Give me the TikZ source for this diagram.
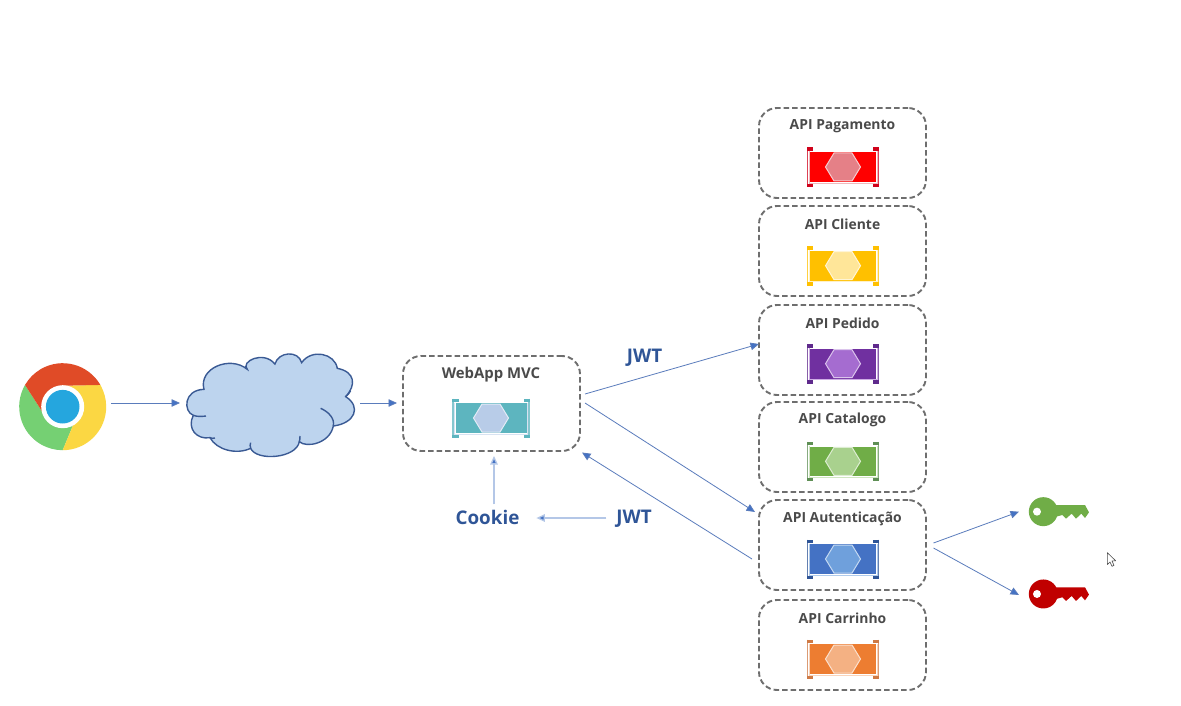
\documentclass[tikz,border=0pt]{standalone}
\usepackage{fontspec}
\setmainfont{Open Sans}
\usetikzlibrary{arrows.meta}
\definecolor{linkblue}{HTML}{5A7CBC}
\definecolor{tipblue}{HTML}{4472C4}
\definecolor{palelink}{HTML}{B4C7E7}
\definecolor{labelblue}{HTML}{2F5597}
\definecolor{titlegrey}{HTML}{4A4A4A}
\definecolor{dashgrey}{HTML}{6E6E6E}
\definecolor{cred}{HTML}{E04B27}
\definecolor{cyel}{HTML}{FBD743}
\definecolor{cgrn}{HTML}{75D073}
\definecolor{cblu}{HTML}{25A6DE}
\definecolor{cloudfill}{HTML}{BDD4EE}
\definecolor{cloudline}{HTML}{3A5A94}
\definecolor{webmain}{HTML}{5DB5BF}
\definecolor{webhex}{HTML}{B8CCE8}
\definecolor{payhex}{HTML}{E58087}
\definecolor{paybr}{HTML}{D0021B}
\definecolor{cliemain}{HTML}{FFC000}
\definecolor{cliehex}{HTML}{FFE699}
\definecolor{pedmain}{HTML}{7030A0}
\definecolor{pedbr}{HTML}{5F2A8C}
\definecolor{pedhex}{HTML}{A56CD0}
\definecolor{catmain}{HTML}{70AD47}
\definecolor{catbr}{HTML}{5F8F55}
\definecolor{cathex}{HTML}{A9D18E}
\definecolor{autmain}{HTML}{4472C4}
\definecolor{autbr}{HTML}{2F5597}
\definecolor{authex}{HTML}{6FA0DC}
\definecolor{carmain}{HTML}{ED7D31}
\definecolor{carbr}{HTML}{CF7A45}
\definecolor{carhex}{HTML}{F4B183}
\definecolor{keygreen}{HTML}{70AD47}
\definecolor{keyred}{HTML}{C00000}
\tikzset{
  x=1pt,y=-1pt,
  svcbox/.style={draw=dashgrey,line width=1.9pt,dash pattern=on 5.5pt off 3pt,rounded corners=18pt,minimum width=167pt,minimum height=90pt,inner sep=0pt,outer sep=0pt},
  webbox/.style={svcbox,minimum width=177pt,minimum height=95pt},
  svctitle/.style={font=\bfseries\fontsize{13.9}{16}\selectfont,text=titlegrey,inner sep=0pt,outer sep=0pt,yshift=-1.5pt},
  webtitle/.style={svctitle,font=\bfseries\fontsize{14.9}{18}\selectfont},
  biglabel/.style={font=\bfseries\fontsize{18.8}{22}\selectfont,text=labelblue,inner sep=0pt,outer sep=0pt},
  arrowlink/.style={draw=linkblue,line width=0.8pt,-{Triangle[length=8.5pt,width=7.5pt,fill=tipblue]}},
  palearrow/.style={draw=palelink,line width=1.3pt,-{Triangle[length=8.5pt,width=7.5pt,fill=tipblue]}},
  anchorpt/.style={inner sep=0pt,outer sep=0pt},
}
% #1 x, #2 y, #3 main colour, #4 bracket colour, #5 hexagon colour, #6 half width
\newcommand\svcicon[6]{%
  \begin{scope}[shift={(#1,#2)}]
    \fill[#3] (-#6,-14.8) rectangle (#6,14.8);
    \draw[white!45!#5,line width=0.9pt] (-#6-1,-15.5) -- (-#6-1,16) -- (#6+1,16) -- (#6+1,-15.5);
    \draw[#4!75!white,line width=1.5pt] (-#6-2.4,-19.5) -- (-#6-2.4,19.5);
    \draw[#4!75!white,line width=1.5pt] (#6+2.4,-19.5) -- (#6+2.4,19.5);
    \fill[#4] (-#6-3.1,-19.5) rectangle (-#6+3,-16);
    \fill[#4] (-#6-3.1,16.5) rectangle (-#6+3,20);
    \fill[#4] (#6+3.1,-19.5) rectangle (#6-3,-16);
    \fill[#4] (#6+3.1,16.5) rectangle (#6-3,20);
    \filldraw[fill=#5,draw=white!60!#5,line width=1pt] (-17.5,0) -- (-9,-14) -- (9,-14) -- (17.5,0) -- (9,14) -- (-9,14) -- cycle;
  \end{scope}}
% #1 y offset, #2 colour
\newcommand\keyshape[2]{%
  \begin{scope}[shift={(920,#1)},x=0.3333pt,y=-0.3333pt]
    \fill[#2] (370,95) circle (14.5pt);
    \fill[#2] (380,75) -- (495,75) -- (507,97) -- (495,114) -- (484,101) -- (468,116) -- (455,101) -- (438,116) -- (427,105) -- (380,118) -- cycle;
    \fill[white] (351,95) circle (4pt);
  \end{scope}}
\begin{document}
\begin{tikzpicture}
\useasboundingbox (0,0) rectangle (1181,706);
\fill[white] (0,0) rectangle (1181,706);

% browser logo
\node[circle,minimum size=88pt,anchorpt] (chrome) at (62.7,406.7) {};
\begin{scope}[shift={(62.7,406.7)},y=1pt]
  \fill[cgrn] (150:43.5) arc (150:270:43.5) -- (-60:21) -- (194:21) -- cycle;
  \fill[cyel] (270:43.5) arc (270:390:43.5) -- (90:21) -- (0:0) -- (-60:21) -- cycle;
  \fill[cred] (30:43.5) arc (30:150:43.5) -- (194:21) -- (0:0) -- (90:21) -- cycle;
  \fill[white] (0,0) circle (21.5);
  \fill[cblu] (0,0) circle (16.8);
\end{scope}

% cloud
\node[anchorpt,minimum width=170pt,minimum height=103pt] (cloud) at (272,405) {};
\begin{scope}[shift={(0,340)},x=0.3333pt,y=-0.3333pt]
  \filldraw[fill=cloudfill,draw=cloudline,line width=1.4pt]
    (612,148) .. controls (595,85) and (690,45) .. (742,88)
    .. controls (720,65) and (790,30) .. (825,72)
    .. controls (835,35) and (895,30) .. (905,68)
    .. controls (935,25) and (1005,40) .. (1012,85)
    .. controls (1065,95) and (1070,135) .. (1037,170)
    .. controls (1085,200) and (1065,250) .. (1000,258)
    .. controls (990,310) and (920,325) .. (898,305)
    .. controls (890,355) and (770,365) .. (752,325)
    .. controls (710,345) and (650,330) .. (630,293)
    .. controls (590,300) and (560,265) .. (580,226)
    .. controls (550,215) and (550,150) .. (612,148) -- cycle;
  \draw[cloudline,line width=1.4pt] (580,226) .. controls (590,230) and (605,230) .. (618,228);
  \draw[cloudline,line width=1.4pt] (630,293) .. controls (635,295) and (640,296) .. (645,294);
  \draw[cloudline,line width=1.4pt] (752,325) .. controls (750,318) and (750,314) .. (752,308);
  \draw[cloudline,line width=1.4pt] (898,305) .. controls (900,300) and (900,295) .. (900,288);
  \draw[cloudline,line width=1.4pt] (962,205) .. controls (985,215) and (1005,235) .. (1000,258);
  \draw[cloudline,line width=1.4pt] (1052,152) .. controls (1048,160) and (1043,165) .. (1037,170);
\end{scope}

% web application
\node[webbox] (web) at (491.5,403.5) {};
\node[webtitle] (webT) at (491,373.5) {WebApp MVC};
\svcicon{491}{418}{webmain}{webmain}{webhex}{35.5}

% services
\node[svcbox] (pag) at (842.5,153) {};
\node[svctitle] (pagT) at (842.5,125) {API Pagamento};
\svcicon{843}{167}{red}{paybr}{payhex}{33}
\node[svcbox] (cli) at (842.5,251) {};
\node[svctitle] (cliT) at (842.5,223) {API Cliente};
\svcicon{843}{265.7}{cliemain}{cliemain}{cliehex}{33}
\node[svcbox] (ped) at (842.5,350) {};
\node[svctitle] (pedT) at (842.5,322) {API Pedido};
\svcicon{843}{363.7}{pedmain}{pedbr}{pedhex}{33}
\node[svcbox] (cat) at (842.5,447) {};
\node[svctitle] (catT) at (842.5,418) {API Catalogo};
\svcicon{843}{461.3}{catmain}{catbr}{cathex}{33}
\node[svcbox] (aut) at (842.5,545) {};
\node[svctitle] (autT) at (842.5,517) {API Autenticação};
\svcicon{843}{559}{autmain}{autbr}{authex}{33}
\node[svcbox] (car) at (842.5,645) {};
\node[svctitle] (carT) at (842.5,617) {API Carrinho};
\svcicon{843}{659}{carmain}{carbr}{carhex}{33}

% labels
\node[biglabel] (jwtA) at (644.5,357.5) {JWT};
\node[biglabel] (jwtB) at (634,519) {JWT};
\node[biglabel] (cookie) at (487.5,517.5) {Cookie};

% keys
\node[anchorpt,minimum width=60pt,minimum height=29pt] (keyG) at (1059,511.7) {};
\node[anchorpt,minimum width=60pt,minimum height=29pt] (keyR) at (1059,594) {};
\keyshape{480}{keygreen}
\keyshape{562.3}{keyred}

% connectors
\draw[arrowlink] ([shift={(4.5,-3.7)}]chrome.east) -- ([shift={(-7,-2)}]cloud.west);
\draw[arrowlink] ([shift={(3,-2)}]cloud.east) -- ([shift={(-6,-0.5)}]web.west);
\draw[arrowlink] ([shift={(5,-9.5)}]web.east) -- ([shift={(0,-6)}]ped.west);
\draw[arrowlink] ([shift={(5,-0.5)}]web.east) -- ([shift={(-4,-33)}]aut.west);
\draw[arrowlink] ([shift={(-7,14)}]aut.west) -- ([shift={(90.5,1.5)}]web.south);
\draw[palearrow] ([shift={(-10,-1)}]jwtB.west) -- ([shift={(17,0.5)}]cookie.east);
\draw[palearrow] ([shift={(6.5,-6)}]cookie.north) -- ([shift={(2.5,5)}]web.south);
\draw[arrowlink] ([shift={(7.5,-2)}]aut.east) -- ([shift={(-10,0)}]keyG.west);
\draw[arrowlink] ([shift={(7.5,3)}]aut.east) -- ([shift={(-10,1)}]keyR.west);

% pointer
\filldraw[fill=white,draw=black!70,line width=0.6pt,line join=round] (1107.3,552.7) -- (1107.3,564.5) -- (1110,562) -- (1112,566.3) -- (1114,565.3) -- (1112,561) -- (1115.7,560.8) -- cycle;
\end{tikzpicture}
\end{document}
